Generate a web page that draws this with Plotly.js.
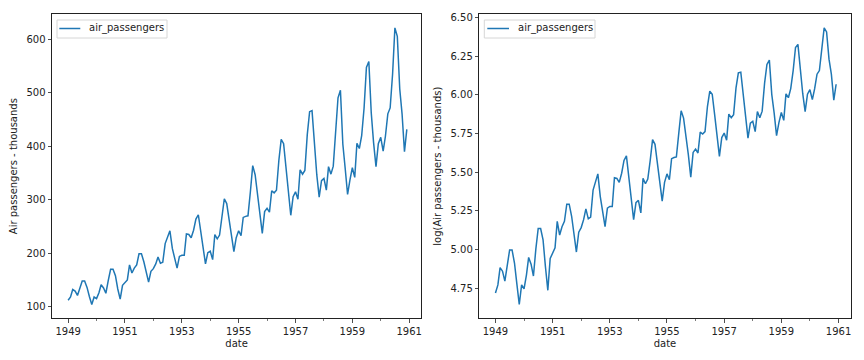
<!DOCTYPE html>
<html><head><meta charset="utf-8">
<script src="https://cdn.plot.ly/plotly-3.0.1.min.js"></script>
<style>html,body{margin:0;padding:0;background:#fff}#c{width:864px;height:360px}</style>
</head><body><div id="c"></div>
<script>
const years = [1949,1950,1951,1952,1953,1954,1955,1956,1957,1958,1959,1960];
const passengers = [
  112,118,132,129,121,135,148,148,136,119,104,118,
  115,126,141,135,125,149,170,170,158,133,114,140,
  145,150,178,163,172,178,199,199,184,162,146,166,
  171,180,193,181,183,218,230,242,209,191,172,194,
  196,196,236,235,229,243,264,272,237,211,180,201,
  204,188,235,227,234,264,302,293,259,229,203,229,
  242,233,267,269,270,315,364,347,312,274,237,278,
  284,277,317,313,318,374,413,405,355,306,271,306,
  315,301,356,348,355,422,465,467,404,347,305,336,
  340,318,362,348,363,435,491,505,404,359,310,337,
  360,342,406,396,420,472,548,559,463,407,362,405,
  417,391,419,461,472,535,622,606,508,461,390,432
];
const seriesName = 'air_passengers';
const dates = [];
years.forEach(y => { for (let m = 1; m <= 12; m++) dates.push(y + '-' + String(m).padStart(2,'0') + '-01'); });
const logPassengers = passengers.map(v => Math.log(v));

const W = 864, H = 360;
const px = v => v / W, py = v => 1 - v / H;
const font = {family: 'DejaVu Sans, sans-serif', size: 10, color: '#222'};
const col = '#1f77b4';
const xbase = {
  type: 'date', range: ['1948-06-08', '1961-06-05'],
  tick0: '1949-01-01', dtick: 'M24', tickformat: '%Y',
  ticks: 'outside', ticklen: 3.5, tickcolor: '#222', tickwidth: 0.8,
  minor: {dtick: 'M12', tick0: '1949-01-01', ticks: 'outside', ticklen: 2, tickcolor: '#222', tickwidth: 0.6},
  showline: true, mirror: true, linecolor: '#222', linewidth: 1,
  showgrid: false, zeroline: false,
  title: {text: 'date', font: font, standoff: 4}, tickfont: font
};
const ybase = {
  ticks: 'outside', ticklen: 3.5, tickcolor: '#222', tickwidth: 0.8,
  showline: true, mirror: true, linecolor: '#222', linewidth: 1,
  showgrid: false, zeroline: false, tickfont: font
};

// custom matplotlib-style legends (pixel boxes)
function legendBox(x0, x1, lx0, lx1, tx) {
  const y0 = 20, y1 = 38, ym = 28.5;
  return {
    shapes: [
      {type: 'rect', xref: 'paper', yref: 'paper', x0: px(x0), x1: px(x1), y0: py(y1), y1: py(y0),
       line: {color: '#d6d6d6', width: 1}, fillcolor: 'rgba(255,255,255,0.8)', layer: 'above'},
      {type: 'line', xref: 'paper', yref: 'paper', x0: px(lx0), x1: px(lx1), y0: py(ym), y1: py(ym),
       line: {color: col, width: 1.5}, layer: 'above'}
    ],
    ann: {xref: 'paper', yref: 'paper', x: px(tx), y: py(ym), xanchor: 'left', yanchor: 'middle',
          text: seriesName, showarrow: false, font: font}
  };
}
const L1 = legendBox(57, 167, 59.3, 80.3, 87);
const L2 = legendBox(484.3, 595, 487.3, 509, 516);

const layout = {
  width: W, height: H, margin: {l: 0, r: 0, t: 0, b: 0},
  paper_bgcolor: '#fff', plot_bgcolor: '#fff', font: font, showlegend: false,
  xaxis: Object.assign({}, xbase, {domain: [0.0602, 0.4876], anchor: 'y'}),
  yaxis: Object.assign({}, ybase, {domain: [0.1158, 0.9611], anchor: 'x', range: [78.1, 647.9], dtick: 100, tick0: 0,
    title: {text: 'Air passengers - thousands', font: font, standoff: 6}}),
  xaxis2: Object.assign({}, xbase, {domain: [0.5547, 0.9846], anchor: 'y2'}),
  yaxis2: Object.assign({}, ybase, {domain: [0.1158, 0.9611], anchor: 'x2', range: [4.5551, 6.5226], dtick: 0.25, tick0: 0, tickformat: '.2f',
    title: {text: 'log(Air passengers - thousands)', font: font, standoff: 6}}),
  shapes: L1.shapes.concat(L2.shapes),
  annotations: [L1.ann, L2.ann]
};
const data = [
  {x: dates, y: passengers, type: 'scatter', mode: 'lines', name: seriesName,
   line: {color: col, width: 1.5}, xaxis: 'x', yaxis: 'y'},
  {x: dates, y: logPassengers, type: 'scatter', mode: 'lines', name: seriesName,
   line: {color: col, width: 1.5}, xaxis: 'x2', yaxis: 'y2'}
];
Plotly.newPlot('c', data, layout, {displayModeBar: false, staticPlot: true});
</script></body></html>
